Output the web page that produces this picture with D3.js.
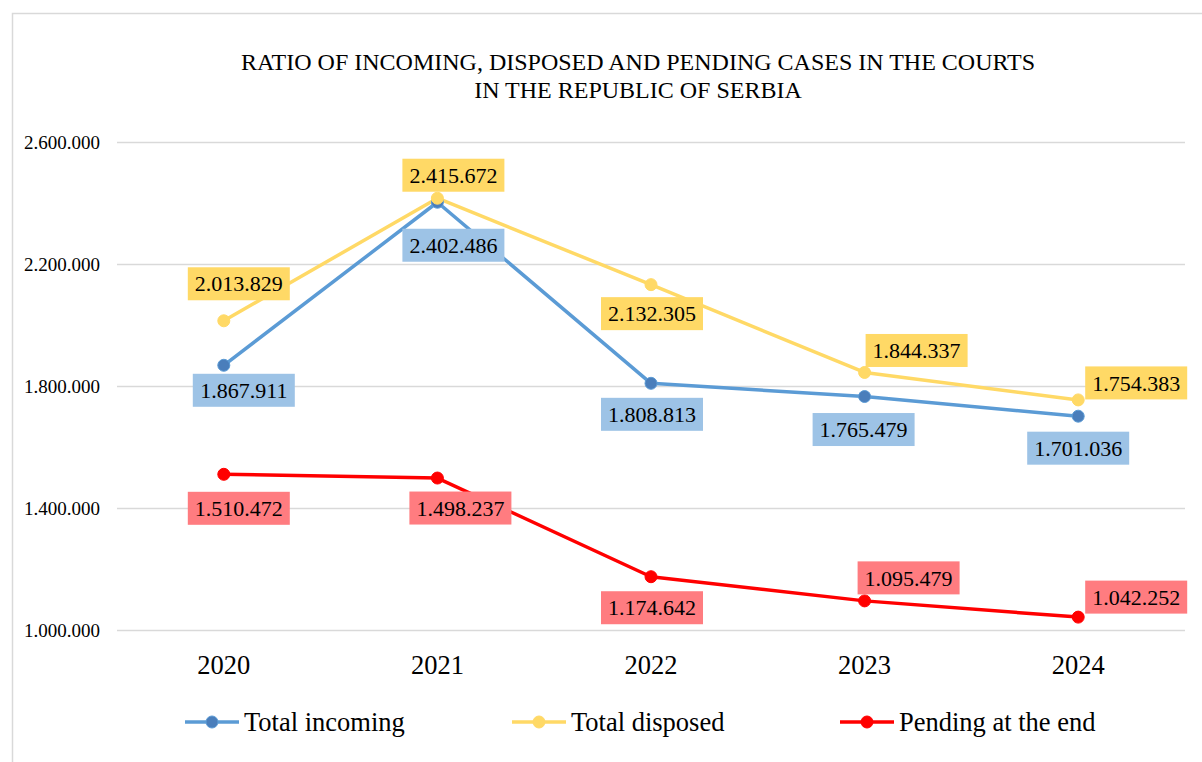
<!DOCTYPE html>
<html>
<head>
<meta charset="utf-8">
<script src="https://cdn.jsdelivr.net/npm/d3@7"></script>
<style>
  html, body { margin: 0; padding: 0; background: #fff; }
  svg text { font-family: "Liberation Serif", "Times New Roman", serif; fill: #000; }
</style>
</head>
<body>
<svg id="chart" width="1202" height="762"></svg>
<script>
// chart data
const years = ['2020', '2021', '2022', '2023', '2024'];
const totalIncoming = [1867911, 2402486, 1808813, 1765479, 1701036];
const totalDisposed = [2013829, 2415672, 2132305, 1844337, 1754383];
const pendingAtEnd = [1510472, 1498237, 1174642, 1095479, 1042252];
const yTicks = [1000000, 1400000, 1800000, 2200000, 2600000];
const seriesNames = ['Total incoming', 'Total disposed', 'Pending at the end'];

// label placement relative to the point (layout only)
const labelOffsets = {
    incoming: [[20, 25], [16, 43], [1, 31], [-1, 33], [0, 32]],
    disposed: [[15, -37], [16, -23], [1, 29], [52, -22], [58, -17]],
    pending:  [[15, 34], [23, 30], [1, 31], [44, -23], [58, -20]]
};

const cfg = {
    left: 117, right: 1185,
    top: 142, bottom: 630,
    lineWidth: 3.5,
    markerR: 6
};

const svg = d3.select('#chart');

// outer frame (right & bottom edges fall outside the window)
svg.append('rect')
    .attr('x', 12.5).attr('y', 13.5)
    .attr('width', 1200).attr('height', 760)
    .attr('fill', '#fff')
    .attr('stroke', '#d9d9d9').attr('stroke-width', 1.5);

const x = d3.scaleBand().domain(years).range([cfg.left, cfg.right]);
const cx = d => x(d) + x.bandwidth() / 2;
const y = d3.scaleLinear().domain([1000000, 2600000]).range([cfg.bottom, cfg.top]);

const fmt = v => d3.format(',')(v).replace(/,/g, '.');

// gridlines + y labels
const yAxis = d3.axisLeft(y).tickValues(yTicks).tickSize(-(cfg.right - cfg.left)).tickFormat(fmt).tickPadding(17);
const gy = svg.append('g').attr('transform', `translate(${cfg.left},0)`).call(yAxis);
gy.select('.domain').remove();
gy.selectAll('.tick line').attr('stroke', '#d9d9d9').attr('stroke-width', 1.5);
gy.selectAll('.tick text').attr('font-size', 19).attr('font-family', 'Liberation Serif').attr('fill', '#000');

// x labels
const xAxis = d3.axisBottom(x).tickSize(0).tickPadding(25);
const gx = svg.append('g').attr('transform', `translate(0,${cfg.bottom})`).call(xAxis);
gx.select('.domain').remove();
gx.selectAll('.tick text').attr('font-size', 26.5).attr('font-family', 'Liberation Serif').attr('fill', '#000');

// title
const title = svg.append('text')
    .attr('x', 638).attr('text-anchor', 'middle').attr('font-size', 24);
title.append('tspan').attr('x', 638).attr('y', 70).text('RATIO OF INCOMING, DISPOSED AND PENDING CASES IN THE COURTS');
title.append('tspan').attr('x', 638).attr('y', 98).text('IN THE REPUBLIC OF SERBIA');

const series = [
    { key: 'incoming', values: totalIncoming, line: '#5B9BD5', marker: '#4A7EBB', markerStroke: '#5B9BD5', box: '#9DC3E6' },
    { key: 'disposed', values: totalDisposed, line: '#FFD966', marker: '#FFD966', markerStroke: '#FFD966', box: '#FFD966' },
    { key: 'pending',  values: pendingAtEnd,  line: '#FF0000', marker: '#FF0000', markerStroke: '#FF0000', box: '#FF7C80' }
];

const line = d3.line().x((d, i) => cx(years[i])).y(d => y(d));

// lines
series.forEach(s => {
    svg.append('path')
        .datum(s.values)
        .attr('fill', 'none')
        .attr('stroke', s.line)
        .attr('stroke-width', cfg.lineWidth)
        .attr('stroke-linejoin', 'round')
        .attr('d', line);
});

// markers
series.forEach(s => {
    svg.append('g').selectAll('circle')
        .data(s.values)
        .join('circle')
        .attr('cx', (d, i) => cx(years[i]))
        .attr('cy', d => y(d))
        .attr('r', cfg.markerR)
        .attr('fill', s.marker)
        .attr('stroke', s.markerStroke)
        .attr('stroke-width', 1);
});

// data labels
const boxW = 102, boxH = 33;
series.forEach(s => {
    const g = svg.append('g');
    s.values.forEach((v, i) => {
        const off = labelOffsets[s.key][i];
        const lx = cx(years[i]) + off[0];
        const ly = y(v) + off[1];
        g.append('rect')
            .attr('x', lx - boxW / 2).attr('y', ly - boxH / 2)
            .attr('width', boxW).attr('height', boxH)
            .attr('fill', s.box);
        g.append('text')
            .attr('x', lx).attr('y', ly)
            .attr('dy', '0.35em')
            .attr('text-anchor', 'middle')
            .attr('font-size', 22)
            .text(fmt(v));
    });
});

// legend
const legendX = [185, 512, 840];
const legendY = 722;
series.forEach((s, i) => {
    const g = svg.append('g').attr('transform', `translate(${legendX[i]},${legendY})`);
    g.append('line').attr('x1', 0).attr('x2', 54).attr('y1', 0).attr('y2', 0)
        .attr('stroke', s.line).attr('stroke-width', cfg.lineWidth);
    g.append('circle').attr('cx', 27).attr('cy', 0).attr('r', cfg.markerR)
        .attr('fill', s.marker).attr('stroke', s.markerStroke);
    g.append('text').attr('x', 59).attr('y', 0).attr('dy', '0.35em')
        .attr('font-size', 26.5).text(seriesNames[i]);
});
</script>
</body>
</html>
